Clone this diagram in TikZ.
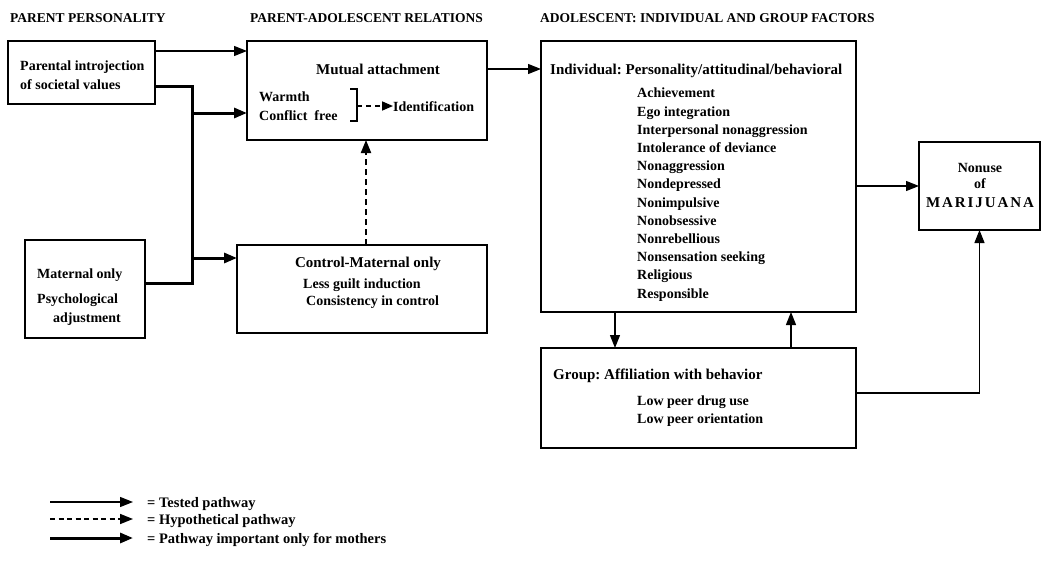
\documentclass[tikz,border=0pt]{standalone}
\usepackage{fontspec}
\setmainfont{Liberation Serif}
\usetikzlibrary{arrows.meta}
\frenchspacing
\begin{document}
\begin{tikzpicture}[x=1pt,y=-1pt,
  box/.style={draw,line width=1.3pt,inner sep=0pt,outer sep=0pt,anchor=north west},
  head/.style={anchor=base west,inner sep=0pt,font=\fontsize{13.5}{15}\selectfont\bfseries},
  txt/.style={anchor=base west,inner sep=0pt,font=\fontsize{14}{16}\selectfont\bfseries},
  ctxt/.style={anchor=base,inner sep=0pt,font=\fontsize{14}{16}\selectfont\bfseries},
  ttl/.style={inner sep=0pt,font=\fontsize{15}{17}\selectfont\bfseries},
  lgd/.style={anchor=base west,inner sep=0pt,font=\fontsize{14.5}{16}\selectfont\bfseries},
  tip/.tip={Triangle[length=13pt,width=10pt]},
  tested/.style={line width=1.3pt,-tip},
  hypo/.style={line width=2pt,dash pattern=on 6pt off 4pt,-tip},
  mother/.style={line width=3pt,-tip},
]
\useasboundingbox (0,0) rectangle (1042,570);

% column headings
\node[head] (h1) at (10,23) {PARENT PERSONALITY};
\node[head] (h2) at (250,23) {PARENT-ADOLESCENT RELATIONS};
\node[head] (h3) at (540,23) {ADOLESCENT: INDIVIDUAL AND GROUP FACTORS};

% boxes
\node[box,minimum width=147pt,minimum height=63pt] (pi) at (8,41) {};
\node[box,minimum width=240pt,minimum height=99pt] (ma) at (247,41) {};
\node[box,minimum width=120pt,minimum height=98pt] (mo) at (25,240) {};
\node[box,minimum width=250pt,minimum height=88pt] (cm) at (237,245) {};
\node[box,minimum width=315pt,minimum height=271pt] (ind) at (541,41) {};
\node[box,minimum width=315pt,minimum height=100pt] (grp) at (541,348) {};
\node[box,minimum width=121pt,minimum height=88pt] (nu) at (919,142) {};

% parental introjection
\node[txt] (pi1) at (20,70) {Parental introjection};
\node[txt] (pi2) at (20,89) {of societal values};

% mutual attachment
\node[ttl,anchor=base] (ma1) at (378,74) {Mutual attachment};
\node[txt] (ma2) at (259,101) {Warmth};
\node[txt] (ma3) at (259,120) {Conflict\hspace{0.5em}free};
\draw[line width=1.1pt] (350,89) -- (357,89) -- (357,121) -- (350,121);
\coordinate (br) at (357,106);
\node[txt] (idf) at (393,111) {Identification};
\draw[line width=1.6pt,dash pattern=on 5pt off 4pt,-{Triangle[length=11pt,width=9pt]}] (br) -- (br -| idf.west);

% maternal only
\node[txt] (mo1) at (37,278) {Maternal only};
\node[txt] (mo2) at (37,303) {Psychological};
\node[txt] (mo3) at (53,322) {adjustment};

% control
\node[ttl,anchor=base] (cm1) at (368,267) {Control-Maternal only};
\node[txt] (cm2) at (303,288) {Less guilt induction};
\node[txt] (cm3) at (306,305) {Consistency in control};

% individual
\node[ttl,anchor=base west] (in0) at (550,74) {Individual: Personality/attitudinal/behavioral};
\foreach \t [count=\i] in {Achievement,Ego integration,Interpersonal nonaggression,
  Intolerance of deviance,Nonaggression,Nondepressed,Nonimpulsive,Nonobsessive,
  Nonrebellious,Nonsensation seeking,Religious,Responsible}
  \node[txt] (in\i) at (637,{97.8+18.2*(\i-1)}) {\t};

% group
\node[ttl,anchor=base west] (gr0) at (553,379) {Group: Affiliation with behavior};
\node[txt] (gr1) at (637,405) {Low peer drug use};
\node[txt] (gr2) at (637,423) {Low peer orientation};

% outcome
\node[ctxt] (nu1) at (980,172) {Nonuse};
\node[ctxt] (nu2) at (980,188) {of};
\node[ctxt,font=\fontsize{15}{17}\selectfont\bfseries] (nu3) at (980,207)
  {\hbox to 108pt{M\hfil A\hfil R\hfil I\hfil J\hfil U\hfil A\hfil N\hfil A}};

% connectors
\draw[tested] ([yshift=-10pt]pi.north east) -- ([yshift=-10pt]pi.north east -| ma.west);
\coordinate (st) at (192,86);
\coordinate (sb) at (192,283);
\coordinate (s1) at (192,113);
\coordinate (s2) at (192,258);
\draw[line width=3pt] ([yshift=-45pt]pi.north east) -- (st) -- (sb) -- (sb -| mo.east);
\draw[mother] (s1) -- (s1 -| ma.west);
\draw[mother] (s2) -- (s2 -| cm.west);
\draw[hypo] ([xshift=4pt]cm.north) -- ([xshift=4pt]cm.north |- ma.south);
\draw[tested] ([yshift=-28pt]ma.north east) -- ([yshift=-28pt]ma.north east -| ind.west);
\draw[tested] (nu.west -| ind.east) -- (nu.west);
\draw[tested] ([xshift=74pt]ind.south west) -- ([xshift=74pt]ind.south west |- grp.north);
\draw[tested] ([xshift=250pt]grp.north west) -- ([xshift=250pt]grp.north west |- ind.south);
\draw[tested] ([yshift=-45pt]grp.north east) -| (nu.south);

% legend
\coordinate (la1) at (50,502);  \coordinate (lb1) at (133,502);
\coordinate (la2) at (50,519);  \coordinate (lb2) at (133,519);
\coordinate (la3) at (50,538);  \coordinate (lb3) at (133,538);
\draw[tested] (la1) -- (lb1);
\draw[hypo,line width=1.6pt,dash pattern=on 5pt off 3.5pt] (la2) -- (lb2);
\draw[mother] (la3) -- (lb3);
\node[lgd] (lg1) at (147,507) {= Tested pathway};
\node[lgd] (lg2) at (147,524) {= Hypothetical pathway};
\node[lgd] (lg3) at (147,543) {= Pathway important only for mothers};
\end{tikzpicture}
\end{document}
